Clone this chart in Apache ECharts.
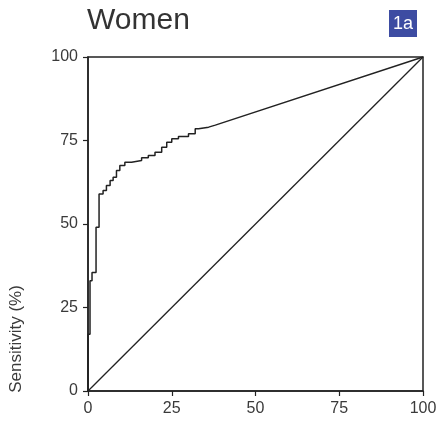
<!DOCTYPE html>
<html>
<head>
<meta charset="utf-8">
<script src="https://cdn.jsdelivr.net/npm/echarts@6/dist/echarts.min.js"></script>
<style>
  html, body { margin: 0; padding: 0; background: #fff; }
  #main { width: 447px; height: 423px; }
</style>
</head>
<body>
<div id="main"></div>
<script>
// ROC curve corners (1 - specificity %, sensitivity %)
var fpr = [0, 0, 0.6, 0.6, 1.2, 1.2, 2.4, 2.4, 3.3, 3.3, 4.5, 4.5, 5.5, 5.5, 6.6, 6.6,
    7.5, 7.5, 8.5, 8.5, 9.5, 9.5, 11, 11, 13, 13, 16, 16, 18, 18, 20, 20, 22, 22,
    23.5, 23.5, 25, 25, 27, 27, 30, 30, 32, 32, 33, 33, 36, 38, 100];
var sens = [0, 17, 17, 33, 33, 35.5, 35.5, 49, 49, 59, 59, 60, 60, 61.5, 61.5, 63,
    63, 64, 64, 66, 66, 67.5, 67.5, 68.5, 68.5, 69, 69, 69.8, 69.8, 70.5, 70.5, 71.5, 71.5, 73,
    73, 74.5, 74.5, 75.5, 75.5, 76.2, 76.2, 77, 77, 78.5, 78.5, 79, 79, 79.6, 100];
var chanceX = [0, 100];
var chanceY = [0, 100];
var ticks = [0, 25, 50, 75, 100];

var myChart = echarts.init(document.getElementById('main'));

var rocData = [];
for (var i = 0; i < fpr.length; i++) {
    rocData.push([fpr[i], sens[i]]);
}
var chanceData = [];
for (var j = 0; j < chanceX.length; j++) {
    chanceData.push([chanceX[j], chanceY[j]]);
}

var font = '"Liberation Sans", Arial, sans-serif';

var axisCommon = {
    type: 'value',
    min: ticks[0],
    max: ticks[ticks.length - 1],
    interval: ticks[1] - ticks[0],
    axisLine: { show: true, lineStyle: { color: '#222', width: 1.5 } },
    axisTick: { show: true, inside: false, length: 5, lineStyle: { color: '#222', width: 1.2 } },
    axisLabel: { color: '#3a3a3a', fontSize: 16, fontFamily: font, margin: 10 },
    splitLine: { show: false }
};

var option = {
    backgroundColor: '#fff',
    animation: false,
    grid: {
        left: 88, right: 24, top: 57, bottom: 32,
        show: true, borderColor: '#222', borderWidth: 1.5
    },
    xAxis: axisCommon,
    yAxis: axisCommon,
    graphic: [
        {
            type: 'text', left: 87, top: 6,
            style: { text: 'Women', fontSize: 30, fontFamily: font, fill: '#333' }
        },
        {
            type: 'group', left: 389, top: 10,
            children: [
                { type: 'rect', shape: { x: 0, y: 0, width: 28, height: 27 }, style: { fill: '#3d4ca2' } },
                { type: 'text', x: 14, y: 14, style: { text: '1a', fontSize: 18, fontFamily: font, fill: '#fff', align: 'center', verticalAlign: 'middle' } }
            ]
        },
        {
            type: 'text', x: 16, y: 339, rotation: Math.PI / 2,
            style: { text: 'Sensitivity (%)', fontSize: 17, fontFamily: font, fill: '#3a3a3a', align: 'center', verticalAlign: 'middle' }
        }
    ],
    series: [
        {
            type: 'line', data: chanceData, symbol: 'none',
            lineStyle: { color: '#222', width: 1.3 }
        },
        {
            type: 'line', data: rocData, symbol: 'none',
            lineStyle: { color: '#222', width: 1.5 }
        }
    ]
};

myChart.setOption(option);
window.onresize = function () {
    myChart.resize();
};
</script>
</body>
</html>
